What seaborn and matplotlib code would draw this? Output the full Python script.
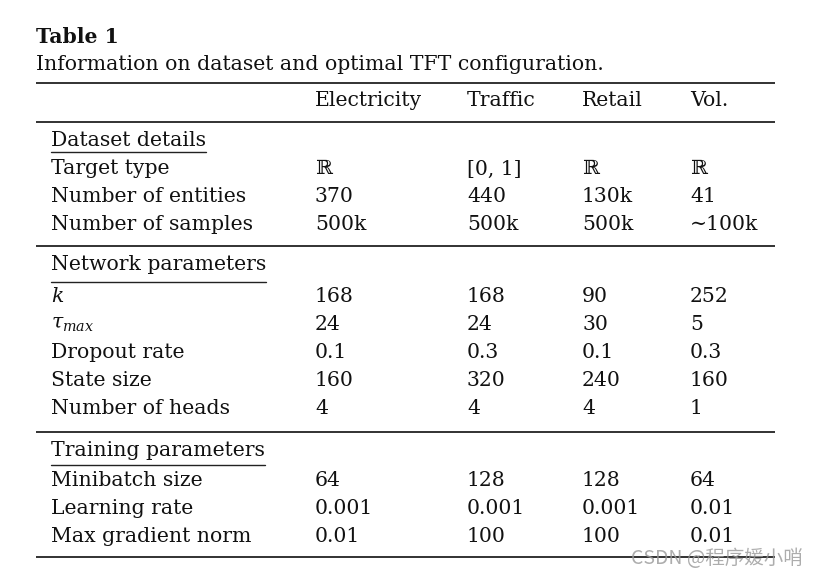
import matplotlib
matplotlib.use("Agg")
import matplotlib.pyplot as plt
import seaborn as sns

# -------------------------------
# Table content
# -------------------------------
title = "Table 1"
caption = "Information on dataset and optimal TFT configuration."
columns = ["Electricity", "Traffic", "Retail", "Vol."]

dataset_rows = ["Target type", "Number of entities", "Number of samples"]
dataset_vals = [["ℝ", "[0, 1]", "ℝ", "ℝ"],
                ["370", "440", "130k", "41"],
                ["500k", "500k", "500k", "∼100k"]]

network_rows = [r"$k$", r"$\tau_{max}$", "Dropout rate", "State size", "Number of heads"]
network_vals = [["168", "168", "90", "252"],
                ["24", "24", "30", "5"],
                ["0.1", "0.3", "0.1", "0.3"],
                ["160", "320", "240", "160"],
                ["4", "4", "4", "1"]]

training_rows = ["Minibatch size", "Learning rate", "Max gradient norm"]
training_vals = [["64", "128", "128", "64"],
                 ["0.001", "0.001", "0.001", "0.01"],
                 ["0.01", "100", "100", "0.01"]]

sections = ["Dataset details", "Network parameters", "Training parameters"]

# -------------------------------
# Layout (pixel coords, y from top)
# -------------------------------
sns.set_theme(style="white")
plt.rcParams["font.family"] = ["DejaVu Serif", "DejaVu Sans"]
plt.rcParams["mathtext.fontset"] = "dejavuserif"

W, H = 818, 578
fig = plt.figure(figsize=(W / 100, H / 100), dpi=100)
ax = fig.add_axes([0, 0, 1, 1])
ax.set_xlim(0, W)
ax.set_ylim(H, 0)
ax.axis("off")

fs = 14.7
col_x = [315, 467, 582, 690]
label_x = 51
left, right = 36, 775
ink = "#111111"

ax.text(left, 37, title, fontsize=fs, fontweight="bold", va="center", color=ink)
ax.text(left, 65, caption, fontsize=fs, va="center", color=ink)

for y in [83, 122, 246, 432, 557]:
    ax.plot([left, right], [y, y], color="#222222", lw=1.3, solid_capstyle="butt")

for cx, name in zip(col_x, columns):
    ax.text(cx, 101, name, fontsize=fs, va="center", color=ink)

blocks = [
    (141, 152, [169, 197, 225], dataset_rows, dataset_vals),
    (265, 282, [296, 324, 352, 381, 409], network_rows, network_vals),
    (450, 465, [481, 509, 537], training_rows, training_vals),
]

fig.canvas.draw()
renderer = fig.canvas.get_renderer()
inv = ax.transData.inverted()

for sec, (sy, uy, row_ys, labels, vals) in zip(sections, blocks):
    t = ax.text(label_x, sy, sec, fontsize=fs, va="center", color=ink)
    bb = t.get_window_extent(renderer)
    x0 = inv.transform((bb.x0, 0))[0]
    x1 = inv.transform((bb.x1, 0))[0]
    ax.plot([x0, x1], [uy, uy], color="#222222", lw=1.0)
    for ry, lab, row in zip(row_ys, labels, vals):
        ax.text(label_x, ry, lab, fontsize=fs, va="center", color=ink)
        for cx, v in zip(col_x, row):
            ax.text(cx, ry, v, fontsize=fs, va="center", color=ink)

# watermark
ax.text(803, 558, "CSDN @程序媛小哨", fontsize=14, ha="right", va="center",
        color="#999999", alpha=0.8,
        family=["Noto Sans CJK SC", "DejaVu Sans"])

fig.savefig("out.png", dpi=100, facecolor="white")
